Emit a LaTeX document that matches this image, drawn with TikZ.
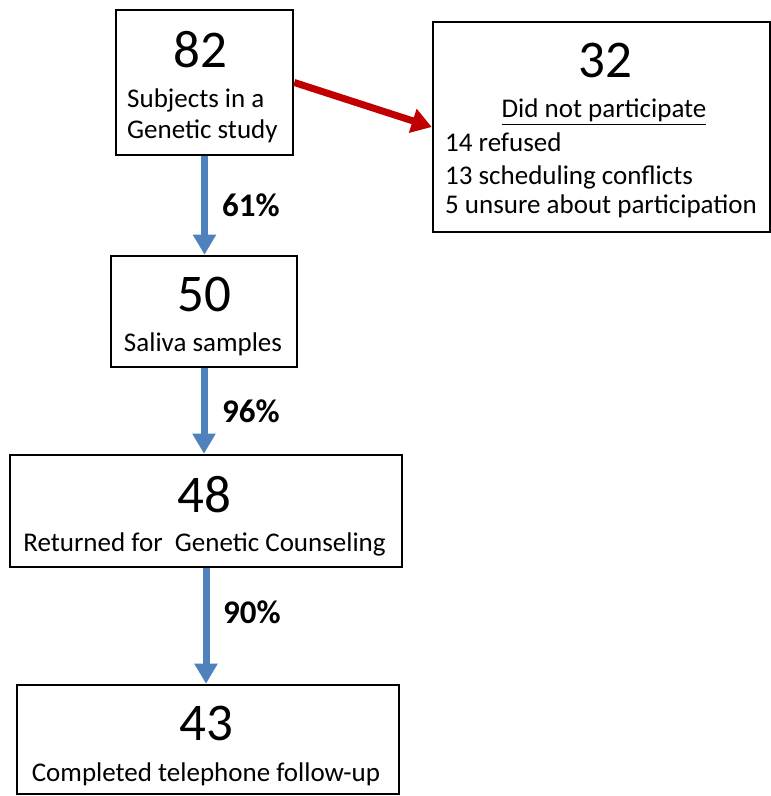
\documentclass[tikz,border=0pt]{standalone}
\usepackage{fontspec}
\setmainfont{Carlito}
\usetikzlibrary{arrows.meta}
\definecolor{flowblue}{HTML}{4F81BD}
\definecolor{flowred}{HTML}{C00000}
\begin{document}
\begin{tikzpicture}[x=1pt,y=1pt,
  box/.style={draw=black,line width=2.5pt,rectangle,inner sep=0pt,fill=white},
  bignum/.style={anchor=base,inner sep=0pt,font=\fontsize{53}{60}\selectfont},
  txt/.style={inner sep=0pt,font=\fontsize{27}{32}\selectfont},
  pct/.style={anchor=base west,inner sep=0pt,font=\fontsize{33}{38}\selectfont\bfseries},
  bluearrow/.style={draw=flowblue,line width=7pt,-{Triangle[length=20pt,width=22pt]}},
  redarrow/.style={draw=flowred,line width=7pt,-{Triangle[length=20pt,width=24pt]}}]
\useasboundingbox (0,0) rectangle (771,796);
% boxes
\node[box,minimum width=177pt,minimum height=145pt] (A) at (204.5,713.5) {};
\node[box,minimum width=337pt,minimum height=210pt] (B) at (601.5,669) {};
\node[box,minimum width=186pt,minimum height=111pt] (C) at (204,484.5) {};
\node[box,minimum width=392pt,minimum height=112pt] (D) at (206,285) {};
\node[box,minimum width=382pt,minimum height=109pt] (E) at (208,56.5) {};
% texts
\node[bignum] (a1) at (200,728) {82};
\node[txt,anchor=base west] (a2) at (127,688) {Subjects in a};
\node[txt,anchor=base west] (a3) at (127,657) {Genetic study};
\node[bignum] (b1) at (605,718) {32};
\node[txt,anchor=base] (b2) at (604,678) {\underline{Did not participate}};
\node[txt,anchor=base west] (b3) at (445,644.5) {14 refused};
\node[txt,anchor=base west] (b4) at (445,611) {13 scheduling conflicts};
\node[txt,anchor=base west] (b5) at (445,582) {5 unsure about participation};
\node[bignum] (c1) at (204,484) {50};
\node[txt,anchor=base] (c2) at (203,444) {Saliva samples};
\node[bignum] (d1) at (204,283) {48};
\node[txt,anchor=base] (d2) at (204.5,244) {Returned for\ \ Genetic Counseling};
\node[bignum] (e1) at (206,56) {43};
\node[txt,anchor=base] (e2) at (206,15) {Completed telephone follow-up};
% connectors
\draw[bluearrow] (A.south) -- (A.south |- C.north);
\draw[bluearrow] (C.south) -- (C.south |- D.north);
\draw[bluearrow] (D.south) -- (D.south |- E.north);
\draw[redarrow] (A.east) -- (B.west);
% labels
\node[pct] (p1) at (222,579) {61\%};
\node[pct] (p2) at (222,373) {96\%};
\node[pct] (p3) at (223,172) {90\%};
\end{tikzpicture}
\end{document}
